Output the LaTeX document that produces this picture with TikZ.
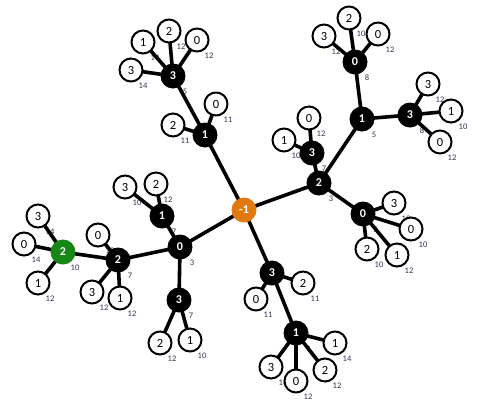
\documentclass[tikz,border=0pt]{standalone}
\usepackage{fontspec}
\setmainfont{Carlito}
\usepackage{xcolor}
\usepackage{tikz}
\usetikzlibrary{positioning, calc}
\definecolor{rootorange}{RGB}{224,122,16}
\definecolor{leafgreen}{RGB}{22,135,22}
\definecolor{lblgray}{RGB}{50,50,80}
\pgfdeclarelayer{back}
\pgfdeclarelayer{edges}
\pgfsetlayers{back,edges,main}

\begin{document}
\begin{tikzpicture}[
    x=1pt, y=-1pt,
    inner/.style={circle, fill=black, text=white, font=\bfseries\fontsize{12}{12}\selectfont, minimum size=25pt, inner sep=0pt},
    rootnode/.style={inner, fill=rootorange},
    greennode/.style={inner, fill=leafgreen},
    leaf/.style={circle, draw=black, line width=2pt, fill=white, font=\fontsize{12.5}{12.5}\selectfont, minimum size=23pt, inner sep=0pt},
    lbl/.style={font=\fontsize{8.5}{8.5}\selectfont, text=lblgray, inner sep=0pt},
    edge/.style={line width=3.6pt}
]
\useasboundingbox (0,0) rectangle (491,408);

% Root
\node[rootnode] (r) at (244,210) {-1};

% Upper left branch
\node[inner] (a) at (205,135) {1};
\node[leaf] (a1) at (216,104) {0};
\node[leaf] (a2) at (173,125) {2};
\node[inner] (b) at (173,76) {3};
\node[leaf] (b1) at (143,42) {1};
\node[leaf] (b2) at (169,31) {2};
\node[leaf] (b3) at (197,40) {0};
\node[leaf] (b4) at (131,70) {3};

% Upper right branch
\node[inner] (c) at (319,183) {2};
\node[inner] (d) at (312,153) {3};
\node[leaf] (d1) at (309,118) {0};
\node[leaf] (d2) at (284,140) {1};
\node[inner] (e) at (362,119) {1};
\node[inner] (f) at (355,62) {0};
\node[leaf] (f1) at (324,36) {3};
\node[leaf] (f2) at (349,18) {2};
\node[leaf] (f3) at (378,34) {0};
\node[inner] (g) at (410,115) {3};
\node[leaf] (g1) at (428,84) {3};
\node[leaf] (g2) at (451,111) {1};
\node[leaf] (g3) at (440,142) {0};
\node[inner] (h) at (363,214) {0};
\node[leaf] (h1) at (394,203) {3};
\node[leaf] (h2) at (411,229) {0};
\node[leaf] (h3) at (367,249) {2};
\node[leaf] (h4) at (397,255) {1};

% Lower branch
\node[inner] (i) at (272,273) {3};
\node[leaf] (i1) at (303,283) {2};
\node[leaf] (i2) at (256,299) {0};
\node[inner] (j) at (296,333) {1};
\node[leaf] (j1) at (335,343) {1};
\node[leaf] (j2) at (325,370) {2};
\node[leaf] (j3) at (296,381) {0};
\node[leaf] (j4) at (271,367) {3};

% Left branch
\node[inner] (k) at (180,247) {0};
\node[inner] (m) at (162,216) {1};
\node[leaf] (m1) at (125,187) {3};
\node[leaf] (m2) at (156,184) {2};
\node[inner] (n) at (179,300) {3};
\node[leaf] (n1) at (160,343) {2};
\node[leaf] (n2) at (190,340) {1};
\node[inner] (p) at (118,260) {2};
\node[leaf] (p1) at (98,235) {0};
\node[leaf] (p2) at (92,292) {3};
\node[leaf] (p3) at (120,298) {1};
\node[greennode] (q) at (63,252) {2};
\node[leaf] (q1) at (38,216) {3};
\node[leaf] (q2) at (24,244) {0};
\node[leaf] (q3) at (38,283) {1};

% Edges
\begin{pgfonlayer}{edges}
\foreach \s/\t in {r/a, a/a1, a/a2, a/b, b/b1, b/b2, b/b3, b/b4,
    r/c, c/d, d/d1, d/d2, c/e, e/f, f/f1, f/f2, f/f3, e/g, g/g1, g/g2, g/g3,
    c/h, h/h1, h/h2, h/h3, h/h4,
    r/i, i/i1, i/i2, i/j, j/j1, j/j2, j/j3, j/j4,
    r/k, k/m, m/m1, m/m2, k/n, n/n1, n/n2, k/p, p/p1, p/p2, p/p3,
    p/q, q/q1, q/q2, q/q3}
    \draw[edge] (\s.center) -- (\t.center);
\end{pgfonlayer}

% Small labels under the edges
\begin{pgfonlayer}{back}
\foreach \n/\v in {a1/11, a2/11, b/5, b1/14, b2/12, b3/12, b4/14,
    c/3, d/7, d1/12, d2/10, e/5, f/8, f1/12, f2/10, f3/12, g/8, g1/12, g2/10, g3/12,
    h/7, h1/12, h2/10, h3/10, h4/12,
    i1/11, i2/11, j/9, j1/14, j2/12, j3/12, j4/14,
    k/3, m/7, m1/10, m2/12, n/7, n1/12, n2/10, p/7, p1/12, p2/12, p3/12,
    q/10, q1/14, q2/14, q3/12}
    \node[lbl] (l\n) at ([shift={(12,16)}]\n.center) {\v};
\end{pgfonlayer}

\end{tikzpicture}
\end{document}
